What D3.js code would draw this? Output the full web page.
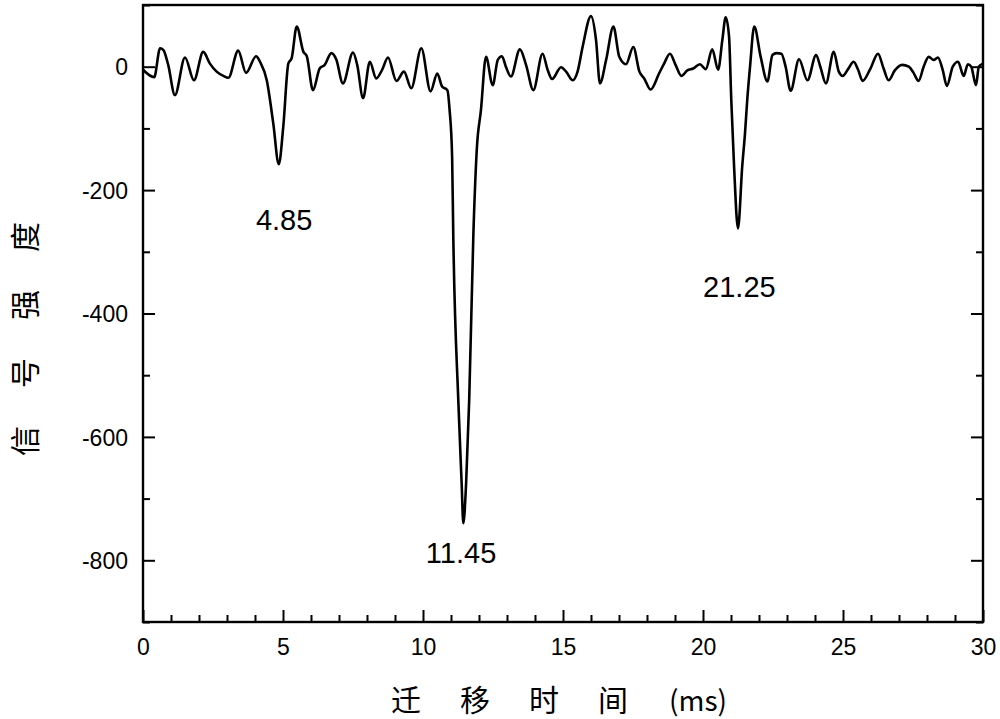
<!DOCTYPE html>
<html>
<head>
<meta charset="utf-8">
<script src="https://cdn.jsdelivr.net/npm/d3@7"></script>
<style>
  html, body { margin: 0; padding: 0; background: #fff; }
  svg { display: block; }
  text { font-family: "Liberation Sans", Arial, sans-serif; fill: #000; }
  .cjk { font-family: "Noto Sans CJK SC", sans-serif; }
</style>
</head>
<body>
<svg id="chart" width="1000" height="719"></svg>
<script>
// ---- data ----
const timeMs = [
  0, 0.4, 0.61, 0.73, 0.9, 1.14, 1.5, 1.82, 2.15, 2.39, 2.63, 2.87, 3.05, 3.4, 3.68, 4.04, 4.18, 4.42, 4.65, 4.85,
  5.01, 5.19, 5.31, 5.49, 5.73, 5.85, 6.07, 6.31, 6.49, 6.73, 6.9, 7.14, 7.5, 7.65, 7.86, 8.1, 8.33, 8.54, 8.75, 9.05,
  9.32, 9.58, 9.94, 10.27, 10.51, 10.68, 10.87, 10.95, 11.04, 11.08, 11.26, 11.38, 11.44, 11.54, 11.65, 11.8, 11.92, 12.07, 12.25, 12.49,
  12.67, 12.82, 12.96, 13.14, 13.46, 13.68, 13.94, 14.27, 14.45, 14.61, 14.93, 15.11, 15.35, 15.52, 15.7, 16.0, 16.18, 16.32, 16.54, 16.8,
  17.01, 17.25, 17.51, 17.73, 17.9, 18.13, 18.43, 18.61, 18.82, 19.02, 19.23, 19.44, 19.65, 19.89, 20.1, 20.33, 20.54, 20.69, 20.81, 20.93,
  21.01, 21.11, 21.25, 21.4, 21.5, 21.58, 21.68, 21.83, 22.06, 22.3, 22.48, 22.63, 22.8, 22.95, 23.13, 23.43, 23.73, 24.04, 24.19, 24.39,
  24.67, 24.85, 24.99, 25.18, 25.38, 25.54, 25.7, 25.98, 26.25, 26.45, 26.63, 26.85, 27.11, 27.35, 27.52, 27.7, 27.88, 28.06, 28.24, 28.39,
  28.56, 28.71, 28.92, 29.11, 29.31, 29.46, 29.58, 29.75, 29.85, 30
];
const signal = [
  -5, -17, 30, 27, 3, -46, 15, -22, 24, 5, -8, -15, -18, 26, -10, 17, 8, -22, -91, -158,
  -97, 5, 14, 65, 24, 17, -38, -3, 3, 22, 12, -27, 23, 3, -51, 8, -19, -5, 15, -23,
  -8, -35, 30, -40, -11, -32, -38, -70, -146, -270, -540, -675, -740, -675, -540, -270, -135, -70, 16, -30,
  11, 17, 0, -16, 28, 3, -38, 21, -5, -20, -1, -8, -22, -8, 32, 82, 43, -27, 11, 65,
  16, 4, 32, -8, -19, -37, -11, 5, 21, 3, -15, -6, -3, 4, -4, 28, -5, 43, 80, 49,
  -54, -162, -262, -162, -108, -54, 0, 65, 16, -24, 19, 22, 21, 0, -39, 12, -22, 19, 0, -27,
  24, -8, -15, -4, 8, -5, -23, -3, 21, -3, -22, -6, 3, 0, -10, -23, 0, 16, 11, 15,
  -5, -31, 0, 8, -15, 4, 0, -30, 0, 5
];
const xTicks = [0, 5, 10, 15, 20, 25, 30];
const yTicks = [0, -200, -400, -600, -800];
const peakLabels = ["4.85", "11.45", "21.25"];
const peakLabelX = [5.04, 11.36, 21.3];
const peakLabelY = [-265, -804, -373];
const xTitle = ["迁移时间", "(ms)"];
const yTitle = "信号强度";

// ---- layout ----
const svg = d3.select("#chart");
const L = 143, R = 983, T = 5, B = 622;
const x = d3.scaleLinear().domain([0, 30]).range([L, R]);
const y = d3.scaleLinear().domain([-900, 100]).range([B, T]);

const data = timeMs.map((t, i) => ({ t, v: signal[i] }));

// axes with inward ticks
const majorLen = 12, minorLen = 7;
const xMinor = d3.range(0, 31, 1).filter(v => v % 5 !== 0);
const yMinor = d3.range(-900, 101, 100).filter(v => v % 200 !== 0);

const bottom = svg.append("g").attr("transform", `translate(0,${B})`);
bottom.call(d3.axisBottom(x).tickValues(xTicks).tickSize(-majorLen).tickPadding(17).tickFormat(d3.format("d")));
bottom.append("g").call(d3.axisBottom(x).tickValues(xMinor).tickSize(-minorLen).tickFormat(""));

const left = svg.append("g").attr("transform", `translate(${L},0)`);
left.call(d3.axisLeft(y).tickValues(yTicks).tickSize(-majorLen).tickPadding(15).tickFormat(d => d));
left.append("g").call(d3.axisLeft(y).tickValues(yMinor).tickSize(-minorLen).tickFormat(""));

const right = svg.append("g").attr("transform", `translate(${R},0)`);
right.call(d3.axisRight(y).tickValues(yTicks).tickSize(-majorLen).tickFormat(""));
right.append("g").call(d3.axisRight(y).tickValues(yMinor).tickSize(-minorLen).tickFormat(""));

svg.selectAll(".domain").remove();
svg.selectAll(".tick line").attr("stroke", "#000").attr("stroke-width", 2);
svg.selectAll(".tick text").style("font-size", "23px").attr("fill", "#000");
left.selectAll(".tick text").attr("dy", "0.36em");

// frame
svg.append("rect")
  .attr("x", L).attr("y", T).attr("width", R - L).attr("height", B - T)
  .attr("fill", "none").attr("stroke", "#000").attr("stroke-width", 2.4);

// signal line
const line = d3.line().x(d => x(d.t)).y(d => y(d.v)).curve(d3.curveMonotoneX);
svg.append("path").datum(data)
  .attr("d", line)
  .attr("fill", "none").attr("stroke", "#000").attr("stroke-width", 2.6)
  .attr("stroke-linejoin", "round");

// peak labels
svg.selectAll(".peak").data(peakLabels).enter().append("text")
  .attr("class", "peak")
  .attr("x", (d, i) => x(peakLabelX[i]))
  .attr("y", (d, i) => y(peakLabelY[i]))
  .attr("text-anchor", "middle")
  .style("font-size", "29px")
  .text(d => d);

// x title
const xt = svg.append("text").attr("class", "cjk")
  .attr("x", 391).attr("y", 711)
  .style("font-size", "30px");
xt.append("tspan").style("letter-spacing", "39px").text(xTitle[0]);
xt.append("tspan").attr("dx", 2).style("font-size", "28px").text(xTitle[1]);

// y title
svg.append("text").attr("class", "cjk")
  .attr("transform", `translate(23,456) rotate(-90)`)
  .attr("dominant-baseline", "central")
  .style("font-size", "30px")
  .style("letter-spacing", "38px")
  .text(yTitle);
</script>
</body>
</html>
